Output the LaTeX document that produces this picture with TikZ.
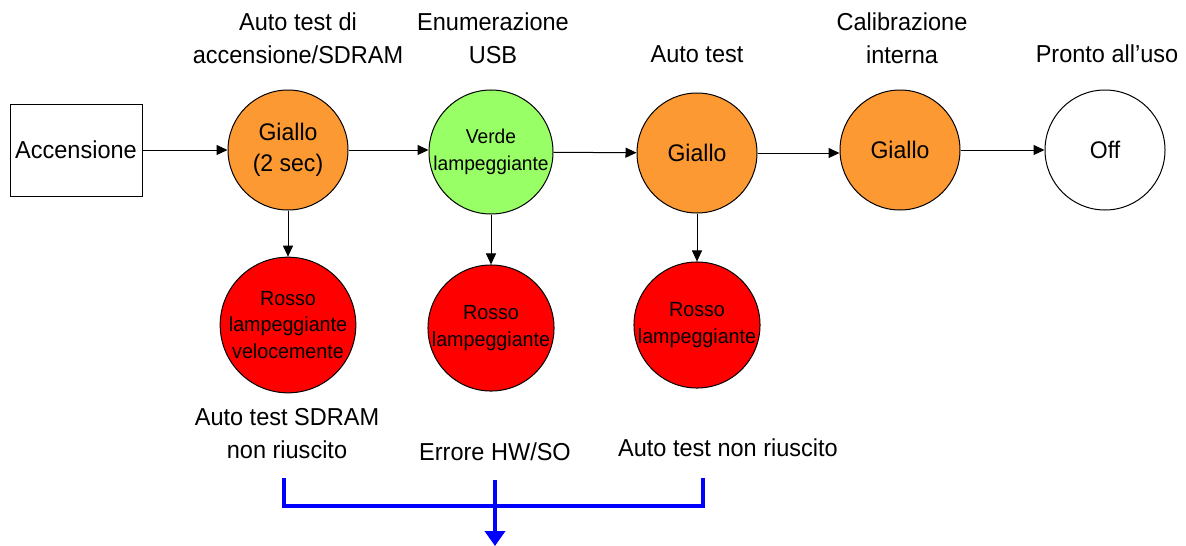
\documentclass[tikz,border=0pt]{standalone}
\usepackage{fontspec}
\setmainfont{Liberation Sans}[FakeStretch=0.96]
\usetikzlibrary{arrows.meta}
\definecolor{orangeY}{RGB}{253,153,51}
\definecolor{greenV}{RGB}{153,255,102}
\definecolor{redR}{RGB}{255,0,0}
\definecolor{blueB}{RGB}{0,0,255}
\begin{document}
\begin{tikzpicture}[x=1pt,y=-1pt,
  st/.style={circle,draw=black,line width=1pt,minimum size=120pt,inner sep=0pt,align=center,font=\fontsize{24}{31}\selectfont},
  red/.style={st,fill=redR,font=\fontsize{20.5}{26.5}\selectfont},
  lab/.style={align=center,font=\fontsize{24.5}{33}\selectfont},
  conn/.style={-{Triangle[length=11pt,width=10pt]},line width=1pt},
  blu/.style={blueB,line width=4pt}]
\useasboundingbox (0,0) rectangle (1186,546);
\node[draw,line width=1pt,minimum width=132pt,minimum height=92pt,inner sep=0pt,font=\fontsize{24.5}{30}\selectfont] (acc) at (76,150) {Accensione};
\node[st,fill=orangeY] (c1) at (288,150) {Giallo\\(2 sec)};
\node[st,fill=greenV,minimum size=117pt,font=\fontsize{20}{27}\selectfont] (c2) at (491,152) {Verde\\lampeggiante};
\node[st,fill=orangeY] (c3) at (697,153) {Giallo};
\node[st,fill=orangeY] (c4) at (900,150) {Giallo};
\node[st,fill=white] (c5) at (1105,150) {Off};
\node[red] (r1) at (288,325) {Rosso\\lampeggiante\\velocemente};
\node[red] (r2) at (491,328) {Rosso\\lampeggiante};
\node[red] (r3) at (697,325) {Rosso\\lampeggiante};
\draw[conn] (acc) -- (c1);
\draw[conn] (c1.east) -- (c2.west |- c1.east);
\draw[conn] (c2) -- (c3);
\draw[conn] (c3.east) -- (c4.west |- c3.east);
\draw[conn] (c4) -- (c5);
\draw[conn] (c1) -- (r1);
\draw[conn] (c2) -- (r2);
\draw[conn] (c3) -- (r3);
\node[lab] (l1) at (298,38) {Auto test di\\accensione/SDRAM};
\node[lab] (l2) at (493,38) {Enumerazione\\USB};
\node[lab] (l3) at (697,54) {Auto test};
\node[lab] (l4) at (902,38) {Calibrazione\\interna};
\node[lab] (l5) at (1107,54) {Pronto all'uso};
\node[lab] (b1) at (287,434) {Auto test SDRAM\\non riuscito};
\node[lab] (b2) at (495,452) {Errore HW/SO};
\node[lab] (b3) at (728,448) {Auto test non riuscito};
\coordinate (k1) at (284,478);
\coordinate (k2) at (703,478);
\coordinate (k3) at (495,480);
\coordinate (k4) at (495,546);
\draw[blu] (k1) -- (k1 |- 0,506) -- (k2 |- 0,506) -- (k2);
\draw[blu,-{Triangle[length=15pt,width=20pt]}] (k3) -- (k4);
\end{tikzpicture}
\end{document}
